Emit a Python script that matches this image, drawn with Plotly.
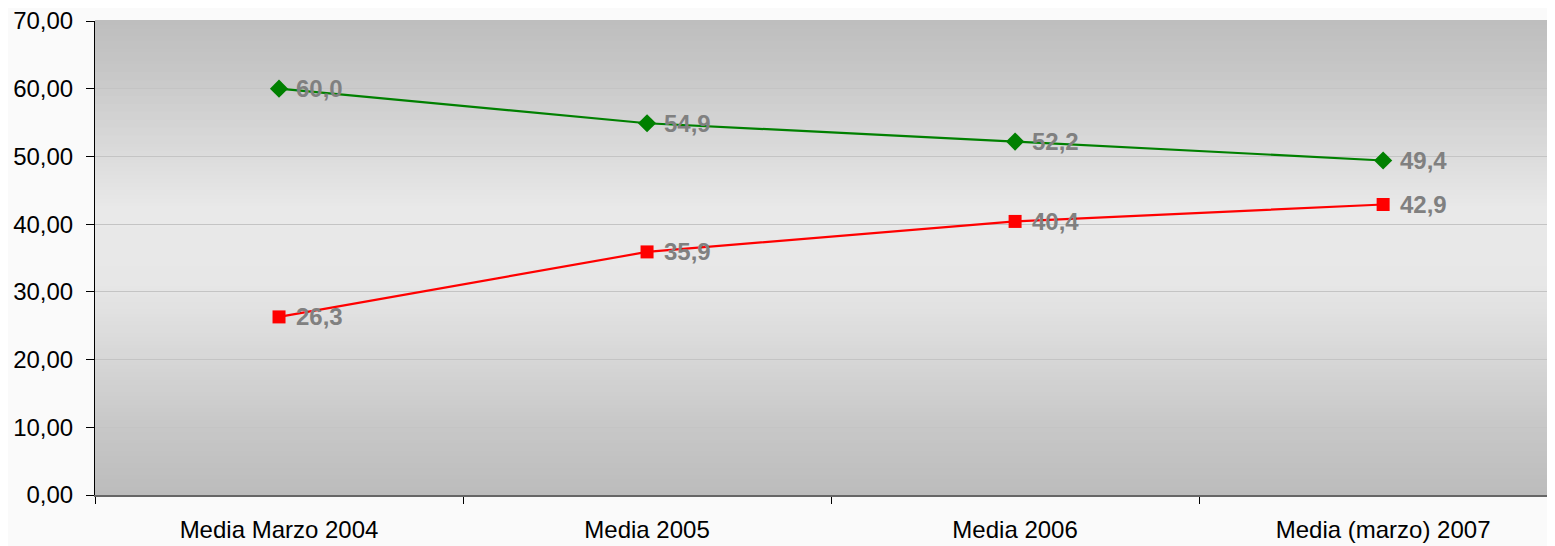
import plotly.graph_objects as go
import numpy as np

categories = ["Media Marzo 2004", "Media 2005", "Media 2006", "Media (marzo) 2007"]
green_values = [60.0, 54.9, 52.2, 49.4]
red_values = [26.3, 35.9, 40.4, 42.9]
y_tickvals = [0, 10, 20, 30, 40, 50, 60, 70]

def fmt(v):
    return f"{v:.1f}".replace(".", ",")

fig = go.Figure()

fig.add_trace(go.Scatter(
    x=categories, y=green_values, mode="lines+markers",
    line=dict(color="#008000", width=2.2),
    marker=dict(symbol="diamond", size=14, color="#008000"),
    showlegend=False, cliponaxis=False,
))
fig.add_trace(go.Scatter(
    x=categories, y=red_values, mode="lines+markers",
    line=dict(color="#ff0000", width=2.2),
    marker=dict(symbol="square", size=13, color="#ff0000"),
    showlegend=False, cliponaxis=False,
))

annotations = []
for series in (green_values, red_values):
    for c, v in zip(categories, series):
        annotations.append(dict(
            x=c, y=v, xref="x", yref="y", text=f"<b>{fmt(v)}</b>",
            showarrow=False, xanchor="left", yanchor="middle", xshift=15,
            font=dict(family="Liberation Sans, Arial", size=24, color="#808080"),
        ))

# background gradient bands (style only)
stops_t = [0.0, 0.15, 0.3, 0.45, 0.6, 0.75, 0.9, 1.0]   # from bottom (0) to top (1)
stops_c = [188, 200, 216, 231, 233, 216, 198, 190]
n = 120
shapes = []
for i in range(n):
    t0, t1 = i / n, (i + 1) / n
    g = int(round(np.interp((t0 + t1) / 2, stops_t, stops_c)))
    col = f"rgb({g},{g},{g})"
    shapes.append(dict(type="rect", xref="paper", yref="paper", x0=0, x1=1, y0=t0, y1=t1 + 0.002,
                       fillcolor=col, line=dict(width=0), layer="below"))

fig.update_layout(
    width=1547, height=538,
    margin=dict(l=87, r=0, t=13, b=51),
    paper_bgcolor="#fafafa", plot_bgcolor="#e6e6e6",
    separators=",.",
    shapes=shapes,
    annotations=annotations,
    font=dict(family="Liberation Sans, Arial", size=24, color="#000000"),
    xaxis=dict(
        type="category", range=[-0.5, 3.467], tickson="boundaries",
        ticks="outside", ticklen=7, tickcolor="#000000", tickwidth=1,
        showgrid=False, showline=True, linecolor="#666666", linewidth=2,
        tickfont=dict(size=24, color="#000000"), ticklabelstandoff=12,
        zeroline=False, ticklabeloverflow="allow",
    ),
    yaxis=dict(
        range=[0, 70], tickvals=y_tickvals, tickformat=".2f",
        ticks="outside", ticklen=8, tickcolor="#000000", tickwidth=1,
        showline=True, linecolor="#000000", linewidth=1,
        showgrid=True, gridcolor="#c4c4c4", gridwidth=1,
        zeroline=False, tickfont=dict(size=24, color="#000000"),
        ticklabelstandoff=8, ticklabeloverflow="allow",
    ),
)

fig.write_html("out.html")
